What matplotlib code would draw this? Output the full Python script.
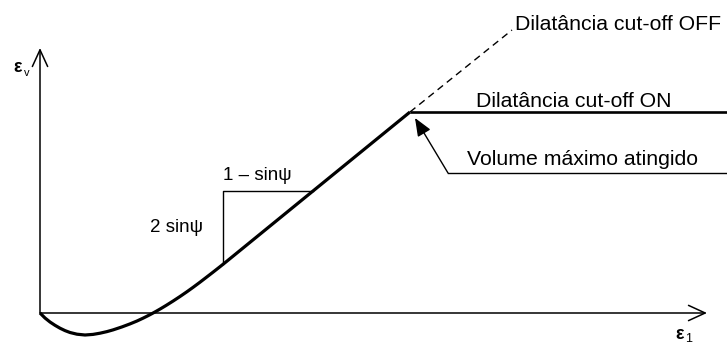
import matplotlib
matplotlib.use("Agg")
import matplotlib.pyplot as plt

plt.rcParams['font.family'] = ['Liberation Sans', 'DejaVu Sans']

# Volumetric strain vs axial strain (schematic), dilatancy cut-off
eps1 = [0.00, 0.05, 0.10, 0.15, 0.20, 0.25, 0.30, 0.37, 0.45, 0.53,
        0.60, 0.67, 0.73, 0.82, 0.90, 0.97, 1.03, 1.08, 1.12, 1.16,
        1.20, 1.26, 1.33, 1.40, 1.47, 1.53, 1.60, 1.66, 1.73, 1.80,
        1.86, 2.73, 3.70]
epsv = [0.000, -0.050, -0.090, -0.123, -0.152, -0.176, -0.195, -0.212, -0.220, -0.214,
        -0.202, -0.186, -0.169, -0.139, -0.109, -0.080, -0.052, -0.027, -0.006, 0.016,
        0.039, 0.075, 0.119, 0.165, 0.213, 0.256, 0.308, 0.354, 0.408, 0.463,
        0.511, 1.220, 2.010]

# Dilatancy continues without cut-off (dashed)
off_eps1 = [3.70, 4.72]
off_epsv = [2.01, 2.83]

# Cut-off ON: constant volume after maximum
on_eps1 = [3.70, 6.90]
on_epsv = [2.01, 2.01]

# Slope triangle: rise 2 sin(psi), run 1 - sin(psi)
tri_eps1 = [1.83, 1.83, 2.73]
tri_epsv = [0.49, 1.22, 1.22]

# Axis extents
x_axis_end = 6.67
y_axis_end = 2.65

# Annotation "Volume máximo atingido"
leader_eps1 = [6.90, 4.08]
leader_epsv = [1.40, 1.40]
arrow_tip = (3.75, 1.95)

fig = plt.figure(figsize=(7.27, 3.44), dpi=100)
ax = fig.add_axes([0, 0, 1, 1])
ax.set_xlim(-0.40, 6.87)
ax.set_ylim(-0.31, 3.13)
ax.axis('off')

# Axes with open arrowheads
ax_style = dict(arrowstyle='->,head_length=12,head_width=5.5', lw=1.1,
                color='black', mutation_scale=1, shrinkA=0, shrinkB=0)
ax.annotate('', xy=(x_axis_end, 0), xytext=(0, 0), arrowprops=ax_style)
ax.annotate('', xy=(0, y_axis_end), xytext=(0, 0), arrowprops=ax_style)

# Main curve
ax.plot(eps1, epsv, color='black', lw=2.3, solid_capstyle='butt',
        solid_joinstyle='round')
ax.plot(off_eps1, off_epsv, color='black', lw=1.0, ls=(0, (5, 3.5)))
ax.plot(on_eps1, on_epsv, color='black', lw=1.9, solid_capstyle='butt', clip_on=False)

# Slope triangle
ax.plot(tri_eps1, tri_epsv, color='black', lw=1.0)

# Leader with filled arrow
ax.plot(leader_eps1, leader_epsv, color='black', lw=1.0, clip_on=False)
ax.annotate('', xy=arrow_tip, xytext=(leader_eps1[1], leader_epsv[1]),
            arrowprops=dict(arrowstyle='-|>,head_length=11,head_width=4.5',
                            lw=1.0, color='black', fc='black',
                            mutation_scale=1, shrinkA=0, shrinkB=0))

fs = 15.3
ax.text(4.75, 2.83, 'Dilatância cut-off OFF', fontsize=fs, ha='left', va='baseline')
ax.text(4.36, 2.06, 'Dilatância cut-off ON', fontsize=fs, ha='left', va='baseline')
ax.text(4.27, 1.48, 'Volume máximo atingido', fontsize=fs, ha='left', va='baseline')

ax.text(1.83, 1.33, '1 – sinψ', fontsize=13.5, ha='left', va='baseline')
ax.text(1.10, 0.81, '2 sinψ', fontsize=13.5, ha='left', va='baseline')

# Axis labels
ax.text(-0.265, 2.41, 'ε', fontsize=13, fontweight='bold', ha='left', va='baseline')
ax.text(-0.165, 2.37, 'v', fontsize=8, ha='left', va='baseline')
ax.text(6.35, -0.26, 'ε', fontsize=13, fontweight='bold', ha='left', va='baseline')
ax.text(6.45, -0.29, '1', fontsize=9, ha='left', va='baseline')

fig.savefig('out.png', dpi=100)
